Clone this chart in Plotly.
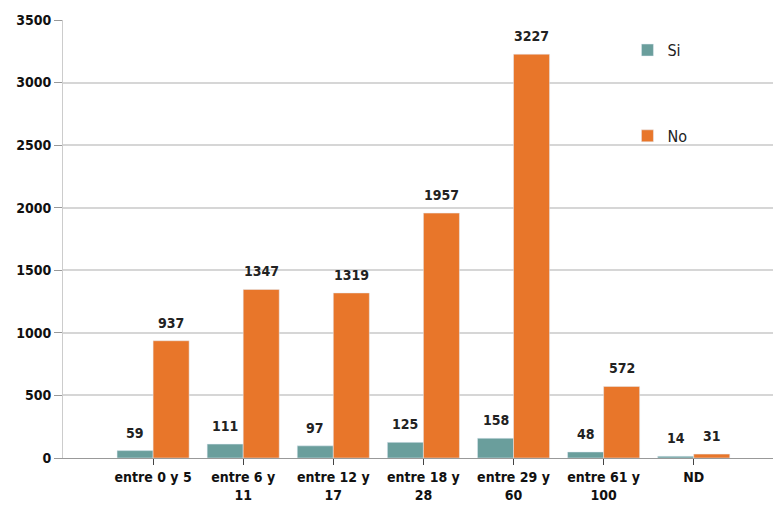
import plotly.graph_objects as go

categories = ["entre 0 y 5", "entre 6 y<br>11", "entre 12 y<br>17", "entre 18 y<br>28",
              "entre 29 y<br>60", "entre 61 y<br>100", "ND"]
si_values = [59, 111, 97, 125, 158, 48, 14]
no_values = [937, 1347, 1319, 1957, 3227, 572, 31]
y_ticks = [0, 500, 1000, 1500, 2000, 2500, 3000, 3500]

FONT = "DejaVu Sans Condensed, Liberation Sans Narrow, Arial Narrow, sans-serif"
SI_COLOR = "#6a9e9c"
NO_COLOR = "#e8762a"

fig = go.Figure()
fig.add_trace(go.Bar(name="Si", x=categories, y=si_values, marker_color=SI_COLOR,
                     legendgroup="si"))
fig.add_trace(go.Bar(name="No", x=categories, y=no_values, marker_color=NO_COLOR,
                     legendgroup="no"))

label_font = dict(family=FONT, size=14, color="#222222", weight="bold")
for series, shift in ((si_values, -18), (no_values, 18)):
    for cat, val in zip(categories, series):
        fig.add_annotation(x=cat, y=val, text=str(val), showarrow=False,
                           xanchor="center", yanchor="bottom", xshift=shift, yshift=8,
                           font=label_font)

fig.update_layout(
    width=773, height=512,
    margin=dict(l=63, r=0, t=20, b=54),
    paper_bgcolor="white", plot_bgcolor="white",
    barmode="group", bargap=0.2, bargroupgap=0,
    font=dict(family=FONT, size=14, color="#111111"),
    legend=dict(
        x=0.795, y=0.97, xanchor="left", yanchor="top",
        font=dict(family=FONT, size=16, color="#222222"),
        tracegroupgap=62, bgcolor="rgba(0,0,0,0)",
    ),
    showlegend=True,
)
fig.update_xaxes(
    range=[-1, 6.88], showgrid=False, showline=True, linecolor="#999999", linewidth=1,
    ticks="outside", ticklen=6, tickcolor="#444444",
    tickfont=dict(family=FONT, size=14, color="#111111", weight="bold"),
)
fig.update_yaxes(
    range=[0, 3500], tickvals=y_ticks, showgrid=True, gridcolor="#d6d6d6", gridwidth=1.5,
    showline=True, linecolor="#cccccc", linewidth=1,
    ticks="outside", ticklen=8, tickcolor="#999999",
    tickfont=dict(family=FONT, size=14, color="#111111", weight="bold"), zeroline=False,
)

fig.write_html("out.html")
